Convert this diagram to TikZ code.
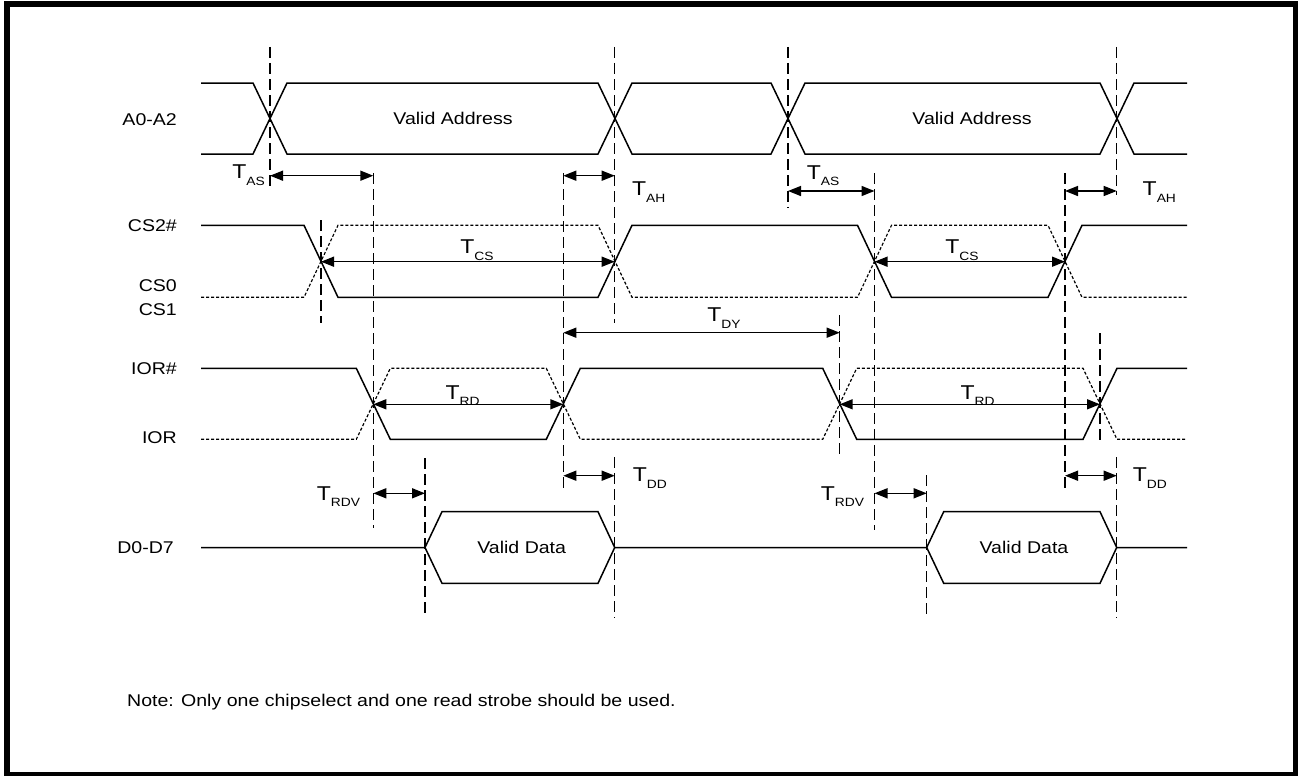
\documentclass[tikz,border=0pt]{standalone}
\usepackage{fontspec}
\setmainfont{Liberation Sans}[FakeStretch=1.15]
\usetikzlibrary{arrows.meta}

% T with a lowered subscript
\newcommand{\tlab}[1]{{\fontsize{20}{20}\selectfont T}\raisebox{-6.7pt}{\fontsize{12}{12}\selectfont #1}}

\tikzset{
  sig/.style={line width=1.5pt},
  idle/.style={line width=1.2pt, dash pattern=on 3pt off 2pt},
  guide/.style={line width=1.3pt, dash pattern=on 11pt off 5pt},
  span/.style={line width=1.5pt, {Triangle[length=13pt,width=10pt]}-{Triangle[length=13pt,width=10pt]}},
  lbl/.style={inner sep=0pt, font=\fontsize{17}{20}\selectfont},
  tlbl/.style={inner sep=0pt},
}

\begin{document}
\begin{tikzpicture}[x=1pt, y=-1pt]
  \useasboundingbox (0,0) rectangle (1298,776);
  % frame
  \draw[line width=5.5pt] (7,4.2) rectangle (1296,774.5);

  % signal names
  \node[lbl, anchor=base east] (nA)   at (177,125.5) {A0-A2};
  \node[lbl, anchor=base east] (nCS)  at (177,231.5) {CS2\#};
  \node[lbl, anchor=base east] (nCS0) at (177,291.7) {CS0};
  \node[lbl, anchor=base east] (nCS1) at (177,315)   {CS1};
  \node[lbl, anchor=base east] (nIOR) at (177,374.5) {IOR\#};
  \node[lbl, anchor=base east] (nIO)  at (177,443.3) {IOR};
  \node[lbl, anchor=base east] (nD)   at (174,553.3) {D0-D7};

  % A0-A2
  \draw[sig] (201,83) -- (253,83) -- (287,154) -- (598,154) -- (632,83) -- (771,83) -- (805,154) -- (1100,154) -- (1134,83) -- (1187,83);
  \draw[sig] (201,154) -- (253,154) -- (287,83) -- (598,83) -- (632,154) -- (771,154) -- (805,83) -- (1100,83) -- (1134,154) -- (1187,154);
  \node[lbl, anchor=base] (va1) at (453,124.8) {Valid Address};
  \node[lbl, anchor=base] (va2) at (972,124.8) {Valid Address};

  % CS2# / CS0 CS1
  \draw[sig] (201,225.3) -- (304,225.3) -- (338,297.3) -- (598,297.3) -- (632,225.3) -- (857.5,225.3) -- (891.5,297.3) -- (1048,297.3) -- (1082,225.3) -- (1187,225.3);
  \draw[idle] (201,297.3) -- (304,297.3) -- (338,225.3) -- (598,225.3) -- (632,297.3) -- (857.5,297.3) -- (891.5,225.3) -- (1048,225.3) -- (1082,297.3) -- (1187,297.3);

  % IOR# / IOR
  \draw[sig] (201,368.3) -- (356.3,368.3) -- (390.3,439.3) -- (546.3,439.3) -- (580.3,368.3) -- (822.7,368.3) -- (856.7,439.3) -- (1083,439.3) -- (1117,368.3) -- (1187,368.3);
  \draw[idle] (201,439.3) -- (356.3,439.3) -- (390.3,368.3) -- (546.3,368.3) -- (580.3,439.3) -- (822.7,439.3) -- (856.7,368.3) -- (1083,368.3) -- (1117,439.3) -- (1187,439.3);

  % D0-D7
  \draw[sig] (201,547.5) -- (425,547.5) -- (442,511.7) -- (598,511.7) -- (614.7,547.5) -- (926.7,547.5) -- (943.7,511.7) -- (1100,511.7) -- (1116.7,547.5) -- (1187,547.5);
  \draw[sig] (425,547.5) -- (442,583.3) -- (598,583.3) -- (614.7,547.5);
  \draw[sig] (926.7,547.5) -- (943.7,583.3) -- (1100,583.3) -- (1116.7,547.5);
  \node[lbl, anchor=base] (vd1) at (521.7,553.3) {Valid Data};
  \node[lbl, anchor=base] (vd2) at (1024,553.3) {Valid Data};

  % dashed marks
  \foreach \x/\ya/\yb in {270/47/188, 614.7/47/323, 614.7/457/618, 788/47/208,
      1116.7/47/195, 1116.7/457/618, 563.3/173/493, 373.3/173/528, 874.5/173/530,
      1065/173/493, 321/220/323, 839.7/315/456, 1100/333/440, 425/458/618, 926.7/475/618}
    \draw[guide] (\x,\ya) -- (\x,\yb);

  % timing ends
  \coordinate (as1a) at (270,175.7);   \coordinate (as1b) at (373.3,175.7);
  \coordinate (ah1a) at (563.3,175.7); \coordinate (ah1b) at (614.7,175.7);
  \coordinate (as2a) at (788,191);     \coordinate (as2b) at (874.5,191);
  \coordinate (ah2a) at (1065,191);    \coordinate (ah2b) at (1116.7,191);
  \coordinate (cs1a) at (321,261.7);   \coordinate (cs1b) at (614.7,261.7);
  \coordinate (cs2a) at (874.5,261.7); \coordinate (cs2b) at (1065,261.7);
  \coordinate (dya)  at (563.3,332.7); \coordinate (dyb)  at (839.7,332.7);
  \coordinate (rd1a) at (373.3,404.3); \coordinate (rd1b) at (563.3,404.3);
  \coordinate (rd2a) at (839.7,404.3); \coordinate (rd2b) at (1100,404.3);
  \coordinate (dd1a) at (563.3,475.7); \coordinate (dd1b) at (614.7,475.7);
  \coordinate (dd2a) at (1065,475.7);  \coordinate (dd2b) at (1116.7,475.7);
  \coordinate (rv1a) at (373.3,493.3); \coordinate (rv1b) at (425,493.3);
  \coordinate (rv2a) at (874.5,493.3); \coordinate (rv2b) at (926.7,493.3);

  \draw[span] (as1a) -- (as1b);
  \draw[span] (ah1a) -- (ah1b);
  \draw[span] (as2a) -- (as2b);
  \draw[span] (ah2a) -- (ah2b);
  \draw[span] (cs1a) -- (cs1b);
  \draw[span] (cs2a) -- (cs2b);
  \draw[span] (dya) -- (dyb);
  \draw[span] (rd1a) -- (rd1b);
  \draw[span] (rd2a) -- (rd2b);
  \draw[span] (dd1a) -- (dd1b);
  \draw[span] (dd2a) -- (dd2b);
  \draw[span] (rv1a) -- (rv1b);
  \draw[span] (rv2a) -- (rv2b);

  % timing names
  \node[tlbl, anchor=base east] (tAS1) at (265,178.3) {\tlab{AS}};
  \node[tlbl, anchor=base west] (tAH1) at (631.8,195.7) {\tlab{AH}};
  \node[tlbl, anchor=base west] (tAS2) at (806.7,179) {\tlab{AS}};
  \node[tlbl, anchor=base west] (tAH2) at (1142.5,195.7) {\tlab{AH}};
  \node[tlbl, anchor=base] (tCS1) at (477,253.3) {\tlab{CS}};
  \node[tlbl, anchor=base] (tCS2) at (962,253.3) {\tlab{CS}};
  \node[tlbl, anchor=base] (tDY) at (724,321.7) {\tlab{DY}};
  \node[tlbl, anchor=base] (tRD1) at (462.5,399) {\tlab{RD}};
  \node[tlbl, anchor=base] (tRD2) at (977.6,399) {\tlab{RD}};
  \node[tlbl, anchor=base west] (tRV1) at (316.7,500) {\tlab{RDV}};
  \node[tlbl, anchor=base west] (tDD1) at (632.7,481.7) {\tlab{DD}};
  \node[tlbl, anchor=base west] (tRV2) at (820.6,500) {\tlab{RDV}};
  \node[tlbl, anchor=base west] (tDD2) at (1132.6,481.7) {\tlab{DD}};

  % note
  \node[lbl, anchor=base west] (note) at (127,706.7) {Note: Only one chipselect and one read strobe should be used.};
\end{tikzpicture}
\end{document}
